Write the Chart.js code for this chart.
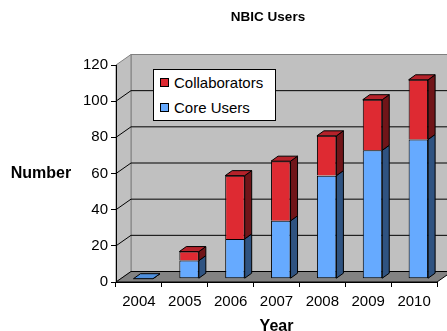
<!DOCTYPE html>
<html>
<head>
<meta charset="utf-8">
<script src="https://cdn.jsdelivr.net/npm/chart.js@4/dist/chart.umd.min.js"></script>
<style>
  html, body { margin: 0; padding: 0; background: #fff; }
  #wrap { position: relative; width: 447px; height: 331px; }
  #legend {
    position: absolute; left: 153px; top: 69px; width: 123px; height: 52px;
    box-sizing: border-box; border: 1px solid #000; background: #fff;
    font: 15px "Liberation Sans", Arial, sans-serif; color: #000;
  }
  #legend .row { position: absolute; left: 0; height: 18px; line-height: 18px; white-space: nowrap; }
  #legend .sw { position: absolute; left: 6px; top: 4px; width: 9px; height: 9px; box-sizing: border-box; border: 1px solid #000; }
  #legend .tx { position: absolute; left: 20px; top: 0; }
</style>
</head>
<body>
<div id="wrap">
  <canvas id="usersChart" width="447" height="331"></canvas>
  <div id="legend"></div>
</div>
<script>
const years = ['2004', '2005', '2006', '2007', '2008', '2009', '2010'];
const coreUsers = [0, 10, 22, 32, 57, 71, 77];
const collaborators = [0, 5, 35, 33, 22, 28, 33];
const yTicks = [0, 20, 40, 60, 80, 100, 120];

// colours: front / side / top of each series
const coreColors = { front: '#66aaff', side: '#2f5381', top: '#4f8fdc' };
const collabColors = { front: '#de2a32', side: '#701519', top: '#b5222a' };
const faces = [coreColors, collabColors];

// 3D offsets (px)
const WALL = { x: 15, y: -10.5 };
const BAR_SHIFT = { x: 4.3, y: -3.3 };
const BAR_DEPTH = { x: 7, y: -5 };

Chart.defaults.font.family = '"Liberation Sans", Arial, sans-serif';
Chart.defaults.color = '#000';

function poly(ctx, pts, fill, stroke) {
    ctx.beginPath();
    pts.forEach((p, i) => i ? ctx.lineTo(p[0], p[1]) : ctx.moveTo(p[0], p[1]));
    ctx.closePath();
    if (fill) { ctx.fillStyle = fill; ctx.fill(); }
    if (stroke) { ctx.strokeStyle = stroke; ctx.lineWidth = 1; ctx.stroke(); }
}

const threeD = {
    id: 'threeD',
    afterLayout(chart) {
        // title sits a bit left of the plot centre in the original
        const t = chart.titleBlock;
        if (t) { t.left = 89; t.right = 447; }
    },
    beforeDraw(chart) {
        const { ctx, chartArea: a, scales: { y } } = chart;
        const L = a.left, R = a.right, T = a.top, B = a.bottom, dx = WALL.x, dy = WALL.y;
        ctx.save();
        poly(ctx, [[L + dx, T + dy], [R + dx, T + dy], [R + dx, B + dy], [L + dx, B + dy]], '#c0c0c0', '#808080');
        poly(ctx, [[L, T], [L + dx, T + dy], [L + dx, B + dy], [L, B]], '#c0c0c0', '#808080');
        poly(ctx, [[L, B], [R, B], [R + dx, B + dy], [L + dx, B + dy]], '#828282', '#000');
        ctx.strokeStyle = '#000';
        ctx.lineWidth = 1;
        y.ticks.forEach(t => {
            if (t.value === 0 || t.value === 120) return;
            const py = y.getPixelForValue(t.value);
            ctx.beginPath();
            ctx.moveTo(L, py);
            ctx.lineTo(L + dx, py + dy);
            ctx.lineTo(R + dx, py + dy);
            ctx.stroke();
        });
        ctx.restore();
    },
    beforeDatasetsDraw(chart) {
        chart.ctx.save();
        chart.ctx.translate(BAR_SHIFT.x, BAR_SHIFT.y);
    },
    afterDatasetsDraw(chart) {
        const ctx = chart.ctx;
        const metas = [chart.getDatasetMeta(0), chart.getDatasetMeta(1)];
        const dx = BAR_DEPTH.x, dy = BAR_DEPTH.y;
        years.forEach((_, i) => {
            const vals = [coreUsers[i], collaborators[i]];
            const topIdx = vals[1] > 0 ? 1 : 0;
            metas.forEach((m, k) => {
                if (k > topIdx) return;
                if (vals[k] === 0 && !(k === 0 && topIdx === 0)) return;
                const b = m.data[i].getProps(['x', 'y', 'base', 'width'], true);
                const l = b.x - b.width / 2, r = b.x + b.width / 2;
                const top = Math.min(b.y, b.base), bot = Math.max(b.y, b.base);
                poly(ctx, [[r, bot], [r, top], [r + dx, top + dy], [r + dx, bot + dy]], faces[k].side, '#000');
                if (k === topIdx) {
                    poly(ctx, [[l, top], [r, top], [r + dx, top + dy], [l + dx, top + dy]], faces[k].top, '#000');
                }
            });
        });
        ctx.restore();
    },
    afterDraw(chart) {
        const { ctx, scales: { y } } = chart;
        ctx.save();
        ctx.font = 'bold 16px "Liberation Sans", Arial, sans-serif';
        ctx.fillStyle = '#000';
        ctx.textAlign = 'center';
        ctx.textBaseline = 'middle';
        ctx.fillText('Number', 41, y.getPixelForValue(60));
        ctx.restore();
    }
};

const chart = new Chart(document.getElementById('usersChart'), {
    type: 'bar',
    data: {
        labels: years,
        datasets: [{
            label: 'Core Users',
            data: coreUsers,
            backgroundColor: coreColors.front,
            borderColor: '#000',
            borderWidth: 1,
            borderSkipped: false
        }, {
            label: 'Collaborators',
            data: collaborators,
            backgroundColor: collabColors.front,
            borderColor: '#000',
            borderWidth: 1,
            borderSkipped: 'start'
        }]
    },
    options: {
        responsive: false,
        animation: false,
        events: [],
        categoryPercentage: 1,
        barPercentage: 0.425,
        layout: { padding: { left: 0, right: 10, top: 0, bottom: 0 } },
        plugins: {
            legend: { display: false },
            tooltip: { enabled: false },
            title: {
                display: true,
                text: 'NBIC Users',
                color: '#000',
                font: { size: 13.5, weight: 'bold' },
                padding: { top: 9, bottom: 39.8 }
            }
        },
        scales: {
            x: {
                stacked: true,
                grid: { offset: true, drawOnChartArea: false, tickLength: 5, color: '#000' },
                border: { color: '#000' },
                ticks: { font: { size: 15 }, padding: 6, color: '#000', maxRotation: 0, autoSkip: false },
                title: { display: true, text: 'Year', color: '#000', font: { size: 16, weight: 'bold' }, padding: { top: 0, bottom: -5 } },
                afterFit: s => { s.height = 49; }
            },
            y: {
                stacked: true,
                min: 0,
                max: 120,
                afterBuildTicks: s => { s.ticks = yTicks.map(v => ({ value: v })); },
                grid: { drawOnChartArea: false, tickLength: 5, color: '#000' },
                border: { color: '#000' },
                ticks: { font: { size: 15 }, padding: 3, color: '#000' },
                afterFit: s => { s.width = 116; }
            }
        }
    },
    plugins: [threeD]
});

// legend box, top series first like the original
const legendEl = document.getElementById('legend');
chart.data.datasets.slice().reverse().forEach((ds, i) => {
    const row = document.createElement('div');
    row.className = 'row';
    row.style.top = (4 + i * 25) + 'px';
    row.style.width = '100%';
    const sw = document.createElement('span');
    sw.className = 'sw';
    sw.style.background = ds.backgroundColor;
    const tx = document.createElement('span');
    tx.className = 'tx';
    tx.textContent = ds.label;
    row.appendChild(sw);
    row.appendChild(tx);
    legendEl.appendChild(row);
});
</script>
</body>
</html>
